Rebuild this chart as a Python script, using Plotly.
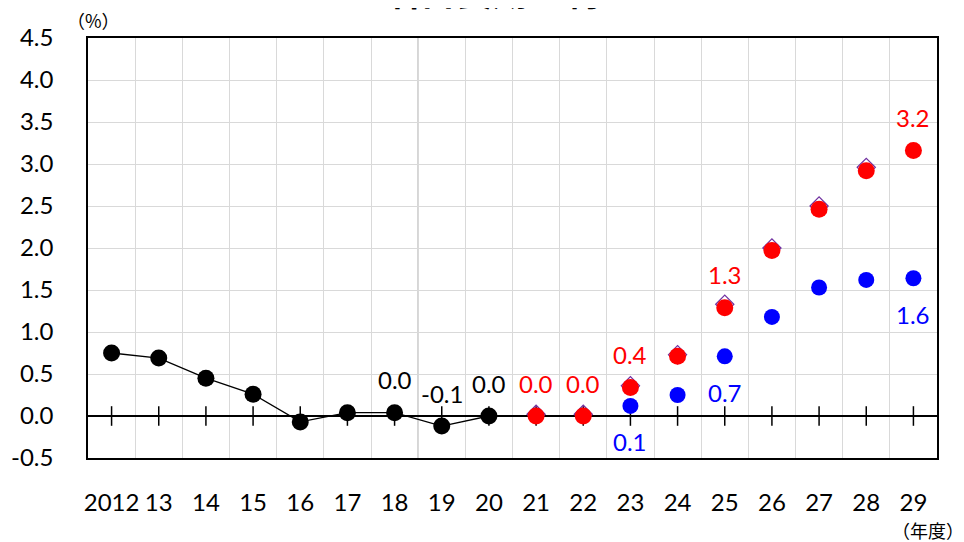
# plot.py
# Nominal long-term interest rate chart (actual + two projection cases).

import plotly.graph_objects as go

# categories (fiscal year)
years = ["2012", "13", "14", "15", "16", "17", "18", "19", "20",
         "21", "22", "23", "24", "25", "26", "27", "28", "29"]

# actual values 2012-2020
actual_years = years[:9]
actual_vals = [0.75, 0.69, 0.45, 0.26, -0.07, 0.04, 0.04, -0.12, 0.00]

# projection cases 2021-2029
proj_years = years[9:]
red_vals = [0.00, 0.00, 0.34, 0.71, 1.29, 1.97, 2.46, 2.92, 3.16]
blue_vals = [None, None, 0.12, 0.25, 0.71, 1.18, 1.53, 1.62, 1.64]
diamond_vals = [0.02, 0.02, 0.36, 0.73, 1.33, 2.00, 2.50, 2.96, None]

# data labels (year, value, text)
black_labels = [("18", 0.04, "0.0"), ("19", -0.12, "-0.1"), ("20", 0.00, "0.0")]
red_labels = [("21", 0.00, "0.0"), ("22", 0.00, "0.0"), ("23", 0.34, "0.4"),
              ("25", 1.29, "1.3"), ("29", 3.16, "3.2")]
blue_labels = [("23", 0.12, "0.1"), ("25", 0.71, "0.7"), ("29", 1.64, "1.6")]

y_ticks = [-0.5, 0.0, 0.5, 1.0, 1.5, 2.0, 2.5, 3.0, 3.5, 4.0, 4.5]
y_ticktext = [f"{v:.1f}" for v in y_ticks]  # plain hyphen for -0.5

FONT = "Lato"

fig = go.Figure()

# cross tick marks on the zero line
fig.add_trace(go.Scatter(
    x=years, y=[0] * len(years), mode="markers",
    marker=dict(symbol="line-ns-open", size=14, color="black",
                line=dict(color="black", width=1.5)),
    hoverinfo="skip", showlegend=False,
))

fig.add_trace(go.Scatter(
    x=actual_years, y=actual_vals, mode="lines+markers",
    line=dict(color="black", width=1.3),
    marker=dict(color="black", size=17),
    showlegend=False,
))

fig.add_trace(go.Scatter(
    x=proj_years, y=diamond_vals, mode="markers",
    marker=dict(symbol="diamond-open", color="#7030A0", size=14, line=dict(width=1.2)),
    showlegend=False,
))

fig.add_trace(go.Scatter(
    x=proj_years, y=red_vals, mode="markers",
    marker=dict(color="#FF0000", size=17),
    showlegend=False,
))

fig.add_trace(go.Scatter(
    x=proj_years, y=blue_vals, mode="markers",
    marker=dict(color="#0000FF", size=16),
    showlegend=False,
))

annotations = []
# category names look numeric, so place labels by category index
for labels, color, shift in [(black_labels, "black", 33),
                             (red_labels, "#FF0000", 33),
                             (blue_labels, "#0000FF", -36)]:
    for yr, v, t in labels:
        annotations.append(dict(x=years.index(yr), y=v, text=t, showarrow=False,
                                yshift=shift,
                                font=dict(color=color, size=24, family=FONT)))

annotations.append(dict(xref="paper", yref="paper", x=0.006, y=1.0, yshift=18,
                        text="（%）", showarrow=False, xanchor="center", yanchor="middle",
                        font=dict(size=18, family="Noto Sans CJK JP", color="black")))
annotations.append(dict(xref="paper", yref="paper", x=1.034, y=0, yshift=-72,
                        text="（年度）", showarrow=False, xanchor="right", yanchor="middle",
                        font=dict(size=18, family="Noto Sans CJK JP", color="black")))
# title sits mostly above the visible page, as in the source image
annotations.append(dict(xref="paper", yref="paper", x=0.476, y=1.0, yshift=20,
                        xanchor="center", yanchor="bottom", showarrow=False,
                        text="<b>名目長期金利</b>",
                        font=dict(family="Noto Sans CJK JP", size=36, color="black")))

# the page body adds an 8px offset, so the figure is 8px smaller on each side
fig.update_layout(
    width=956, height=534,
    margin=dict(l=80, r=27, t=30, b=84),
    paper_bgcolor="white", plot_bgcolor="white",
    font=dict(family=FONT, size=22, color="black"),
    annotations=annotations,
    shapes=[dict(type="line", xref="x", yref="paper", x0=6.5, x1=6.5, y0=0, y1=1,
                 line=dict(color="#A0A0A0", width=1.2), layer="below")],
    xaxis=dict(type="category", categoryorder="array", categoryarray=years,
               range=[-0.5, 17.5], tickson="boundaries", ticks="",
               showgrid=True, gridcolor="#D9D9D9", gridwidth=1.3,
               showline=True, linecolor="black", linewidth=1.5, mirror=True,
               tickangle=0, automargin=False,
               ticklabelstandoff=22, tickfont=dict(size=24, family=FONT)),
    yaxis=dict(range=[-0.5, 4.5], tickvals=y_ticks, ticktext=y_ticktext,
               showgrid=True, gridcolor="#D9D9D9", gridwidth=1.3,
               zeroline=True, zerolinecolor="black", zerolinewidth=1.5,
               showline=True, linecolor="black", linewidth=1.5, mirror=True,
               automargin=False,
               ticks="", ticklabelstandoff=28, tickfont=dict(size=24, family=FONT)),
)

fig.write_html("out.html")
